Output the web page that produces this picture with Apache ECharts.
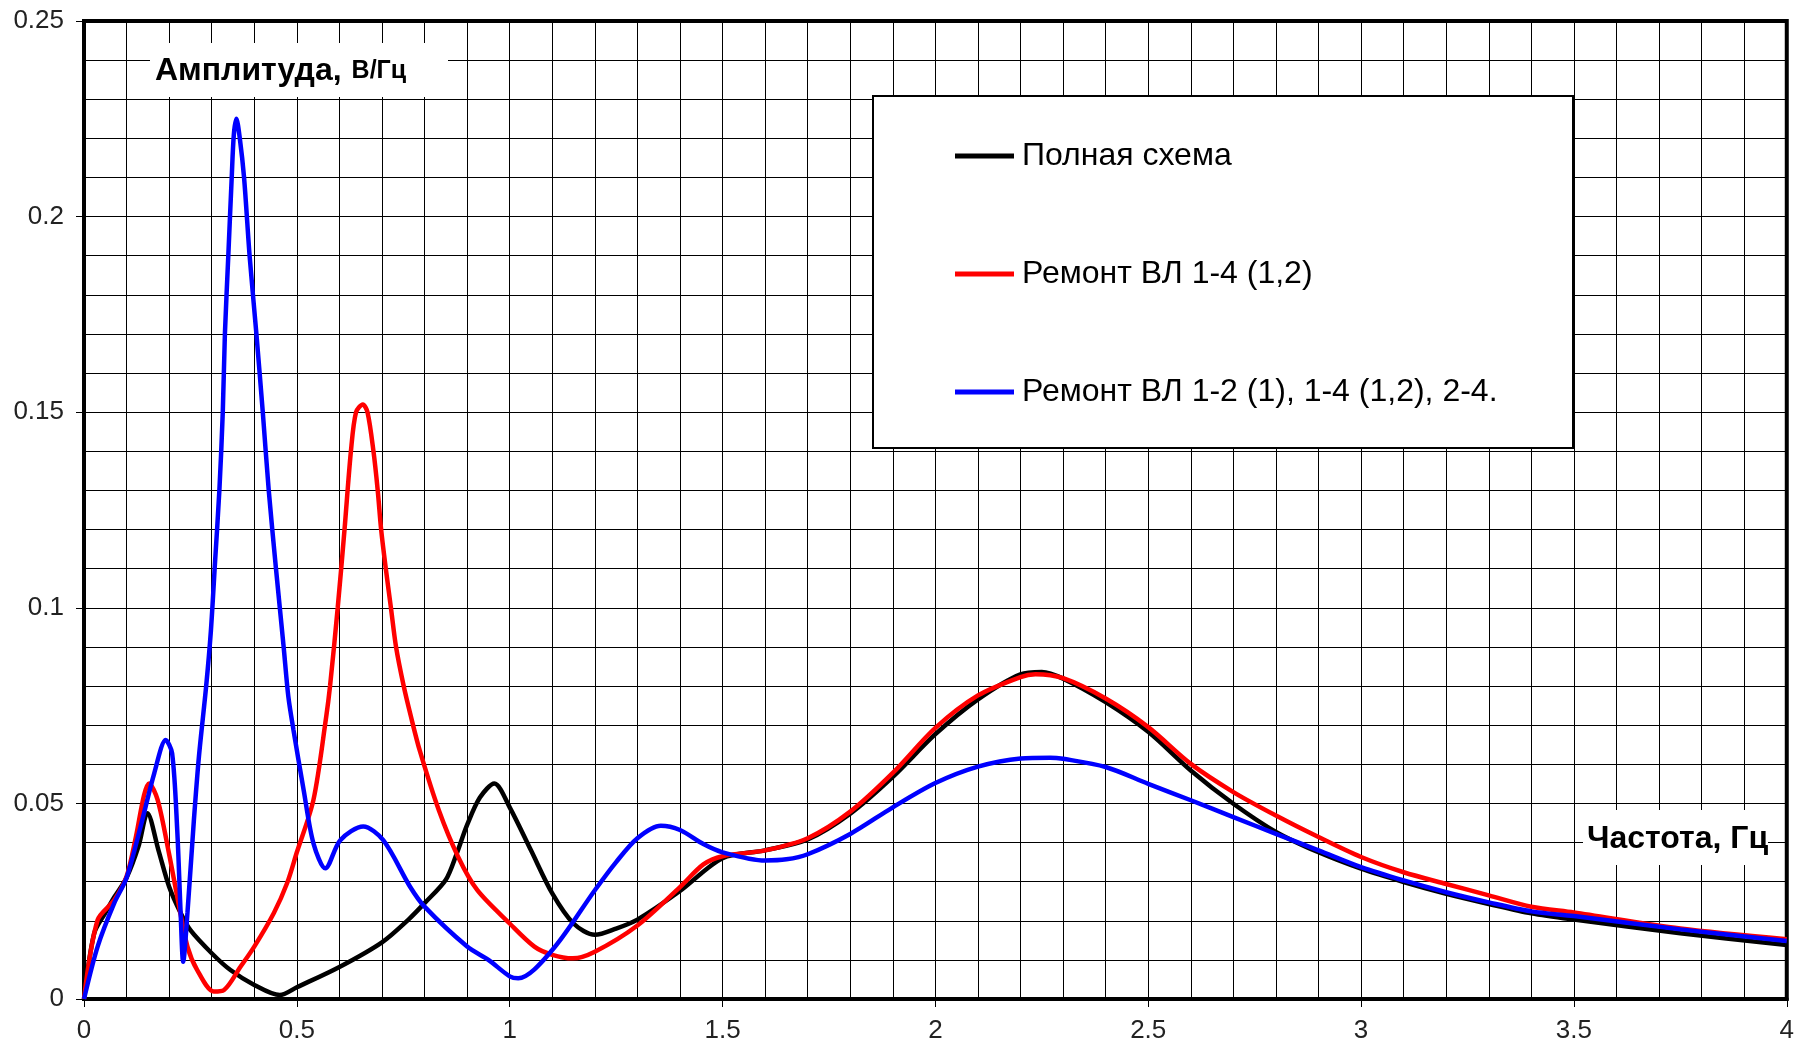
<!DOCTYPE html>
<html>
<head>
<meta charset="utf-8">
<script src="https://cdn.jsdelivr.net/npm/echarts@6/dist/echarts.min.js"></script>
<style>
html,body{margin:0;padding:0;background:#fff;}
#chart{width:1797px;height:1049px;}
</style>
</head>
<body>
<div id="chart"></div>
<script>
// ---- data (frequency, Hz / amplitude, V/Hz) ----
const seriesNames = ['Полная схема', 'Ремонт ВЛ 1-4 (1,2)', 'Ремонт ВЛ 1-2 (1), 1-4 (1,2), 2-4.'];
const xTickLabels = ['0', '0.5', '1', '1.5', '2', '2.5', '3', '3.5', '4'];
const yTickLabels = ['0', '0.05', '0.1', '0.15', '0.2', '0.25'];
const xAxisTitle = 'Частота, Гц';
const yAxisTitleMain = 'Амплитуда,';
const yAxisTitleUnit = 'В/Гц';

const freqBlack = [0, 0.024, 0.05, 0.071, 0.1, 0.128, 0.149, 0.175, 0.2, 0.227, 0.25, 0.3, 0.344, 0.4, 0.46, 0.5, 0.6, 0.7, 0.764, 0.8, 0.85, 0.875, 0.9, 0.93, 0.964, 1.0, 1.05, 1.1, 1.15, 1.2, 1.25, 1.3, 1.4, 1.5, 1.6, 1.7, 1.8, 1.9, 2.0, 2.1, 2.2, 2.25, 2.3, 2.4, 2.5, 2.6, 2.7, 2.8, 2.9, 3.0, 3.1, 3.2, 3.3, 3.4, 3.5, 3.75, 4.0];
const ampBlack = [0, 0.0168, 0.022, 0.026, 0.031, 0.039, 0.0475, 0.038, 0.0287, 0.022, 0.0176, 0.0117, 0.0074, 0.0036, 0.001, 0.003, 0.0082, 0.0145, 0.0205, 0.0245, 0.0305, 0.037, 0.0445, 0.0515, 0.0551, 0.049, 0.038, 0.027, 0.0193, 0.0164, 0.018, 0.0203, 0.0276, 0.036, 0.038, 0.0408, 0.0474, 0.0568, 0.0677, 0.0766, 0.083, 0.0836, 0.0819, 0.0759, 0.0683, 0.0584, 0.0499, 0.0427, 0.0375, 0.0333, 0.0299, 0.0269, 0.0243, 0.0219, 0.0203, 0.0168, 0.0138];

const freqRed = [0, 0.032, 0.071, 0.1, 0.122, 0.141, 0.153, 0.173, 0.2, 0.219, 0.243, 0.266, 0.305, 0.329, 0.368, 0.4, 0.446, 0.477, 0.5, 0.539, 0.569, 0.578, 0.596, 0.612, 0.627, 0.639, 0.655, 0.666, 0.68, 0.69, 0.698, 0.709, 0.721, 0.733, 0.751, 0.768, 0.789, 0.834, 0.879, 0.924, 1.0, 1.058, 1.1, 1.148, 1.2, 1.3, 1.4, 1.455, 1.5, 1.6, 1.7, 1.8, 1.9, 2.0, 2.1, 2.2, 2.235, 2.3, 2.4, 2.5, 2.6, 2.7, 2.8, 2.9, 3.0, 3.1, 3.2, 3.3, 3.4, 3.5, 3.75, 4.0];
const ampRed = [0, 0.0202, 0.0253, 0.0313, 0.0415, 0.0521, 0.0551, 0.0509, 0.037, 0.0262, 0.0134, 0.0074, 0.0019, 0.0023, 0.0083, 0.0134, 0.022, 0.0296, 0.0375, 0.0509, 0.0722, 0.08, 0.10, 0.12, 0.14, 0.15, 0.152, 0.15, 0.14, 0.13, 0.12, 0.11, 0.10, 0.09, 0.08, 0.0722, 0.0634, 0.0481, 0.0363, 0.0278, 0.0193, 0.0134, 0.0113, 0.0104, 0.0121, 0.0188, 0.0286, 0.0344, 0.0365, 0.038, 0.0411, 0.0479, 0.0578, 0.0693, 0.0776, 0.0823, 0.083, 0.082, 0.0768, 0.0695, 0.0601, 0.0529, 0.0469, 0.0414, 0.0363, 0.0324, 0.0294, 0.0265, 0.0236, 0.0221, 0.018, 0.0153];

const freqBlue = [0, 0.032, 0.071, 0.1, 0.133, 0.165, 0.192, 0.207, 0.219, 0.227, 0.233, 0.243, 0.258, 0.27, 0.287, 0.298, 0.308, 0.318, 0.326, 0.331, 0.339, 0.347, 0.352, 0.358, 0.366, 0.376, 0.389, 0.405, 0.42, 0.434, 0.451, 0.469, 0.48, 0.492, 0.516, 0.539, 0.567, 0.602, 0.656, 0.703, 0.766, 0.8, 0.9, 0.95, 1.0, 1.02, 1.1, 1.2, 1.25, 1.3, 1.355, 1.4, 1.455, 1.5, 1.6, 1.65, 1.7, 1.8, 1.9, 2.0, 2.1, 2.2, 2.27, 2.3, 2.4, 2.5, 2.6, 2.7, 2.8, 2.9, 3.0, 3.1, 3.2, 3.3, 3.4, 3.5, 3.75, 4.0];
const ampBlue = [0, 0.0134, 0.0245, 0.031, 0.0441, 0.0577, 0.0662, 0.0628, 0.0432, 0.022, 0.0095, 0.022, 0.0455, 0.062, 0.08, 0.094, 0.112, 0.13, 0.15, 0.17, 0.19, 0.21, 0.221, 0.225, 0.22, 0.21, 0.19, 0.17, 0.15, 0.13, 0.11, 0.09, 0.0773, 0.0688, 0.0534, 0.0398, 0.0334, 0.0406, 0.0441, 0.0406, 0.0287, 0.0236, 0.0134, 0.01, 0.0058, 0.0053, 0.0125, 0.0278, 0.035, 0.0411, 0.0443, 0.0432, 0.0396, 0.0375, 0.0354, 0.0357, 0.037, 0.0422, 0.049, 0.0552, 0.0594, 0.0615, 0.0617, 0.0614, 0.0593, 0.055, 0.0508, 0.0465, 0.0422, 0.038, 0.0337, 0.0303, 0.0273, 0.0247, 0.0224, 0.0212, 0.0178, 0.0148];

const seriesColors = ['#000000', '#ff0000', '#0000ff'];

// ---- build ----
const FONT = '"Liberation Sans", Arial, sans-serif';
function zip(xs, ys) { return xs.map((x, i) => [x, ys[i]]); }
const seriesData = [zip(freqBlack, ampBlack), zip(freqRed, ampRed), zip(freqBlue, ampBlue)];

const chart = echarts.init(document.getElementById('chart'), null, {renderer: 'canvas'});
const gridLine = {show: true, lineStyle: {color: '#000', width: 1}};
const option = {
  animation: false,
  backgroundColor: '#ffffff',
  grid: {left: 84, right: 4, top: 21, bottom: 50, show: true, borderColor: '#000', borderWidth: 4, backgroundColor: 'transparent'},
  xAxis: {
    type: 'value', min: 0, max: 4, interval: 0.5,
    axisLine: {show: true, onZero: false, lineStyle: {color: '#000', width: 4}},
    axisTick: {show: true, length: 8, lineStyle: {color: '#000', width: 1}},
    axisLabel: {fontSize: 26, color: '#222', margin: 19, fontFamily: FONT,
      formatter: v => xTickLabels[Math.round(v / 0.5)] ?? ''},
    splitLine: gridLine,
    minorTick: {show: false, splitNumber: 5},
    minorSplitLine: gridLine
  },
  yAxis: {
    type: 'value', min: 0, max: 0.25, interval: 0.05,
    axisLine: {show: true, lineStyle: {color: '#000', width: 4}},
    axisTick: {show: true, length: 8, lineStyle: {color: '#000', width: 1}},
    axisLabel: {fontSize: 26, color: '#222', margin: 20, fontFamily: FONT,
      formatter: v => yTickLabels[Math.round(v / 0.05)] ?? ''},
    splitLine: gridLine,
    minorTick: {show: false, splitNumber: 5},
    minorSplitLine: gridLine
  },
  legend: {
    orient: 'vertical', left: 950, top: 134, itemGap: 84, itemWidth: 59, itemHeight: 5,
    icon: 'rect', z: 20,
    textStyle: {fontSize: 32, color: '#000', fontFamily: FONT, lineHeight: 34, padding: [0, 0, 0, 3]},
    data: seriesNames
  },
  graphic: [
    {type: 'rect', z: 10, shape: {x: 873, y: 96, width: 700, height: 352},
      style: {fill: '#fff', stroke: '#000', lineWidth: 2}},
    {type: 'rect', z: 10, shape: {x: 150, y: 43, width: 298, height: 54}, style: {fill: '#fff'}},
    {type: 'text', z: 11, x: 155, y: 71,
      style: {text: '{a|' + yAxisTitleMain + '}   {b|' + yAxisTitleUnit + '}', verticalAlign: 'middle', fill: '#000',
        rich: {a: {fontSize: 32, fontWeight: 'bold', fontFamily: FONT, fill: '#000'},
               b: {fontSize: 25, fontWeight: 'bold', fontFamily: FONT, fill: '#000'}}}},
    {type: 'rect', z: 10, shape: {x: 1583, y: 810, width: 185, height: 55}, style: {fill: '#fff'}},
    {type: 'text', z: 11, x: 1587, y: 839,
      style: {text: xAxisTitle, verticalAlign: 'middle', fill: '#000', fontSize: 32, fontWeight: 'bold', fontFamily: FONT}}
  ],
  series: seriesNames.map((name, i) => ({
    name: name, type: 'line', data: seriesData[i], showSymbol: false, symbol: 'none',
    smooth: 0.3,
    lineStyle: {color: seriesColors[i], width: 4.5},
    itemStyle: {color: seriesColors[i]},
    z: 2 + i
  }))
};
chart.setOption(option);
</script>
</body>
</html>
